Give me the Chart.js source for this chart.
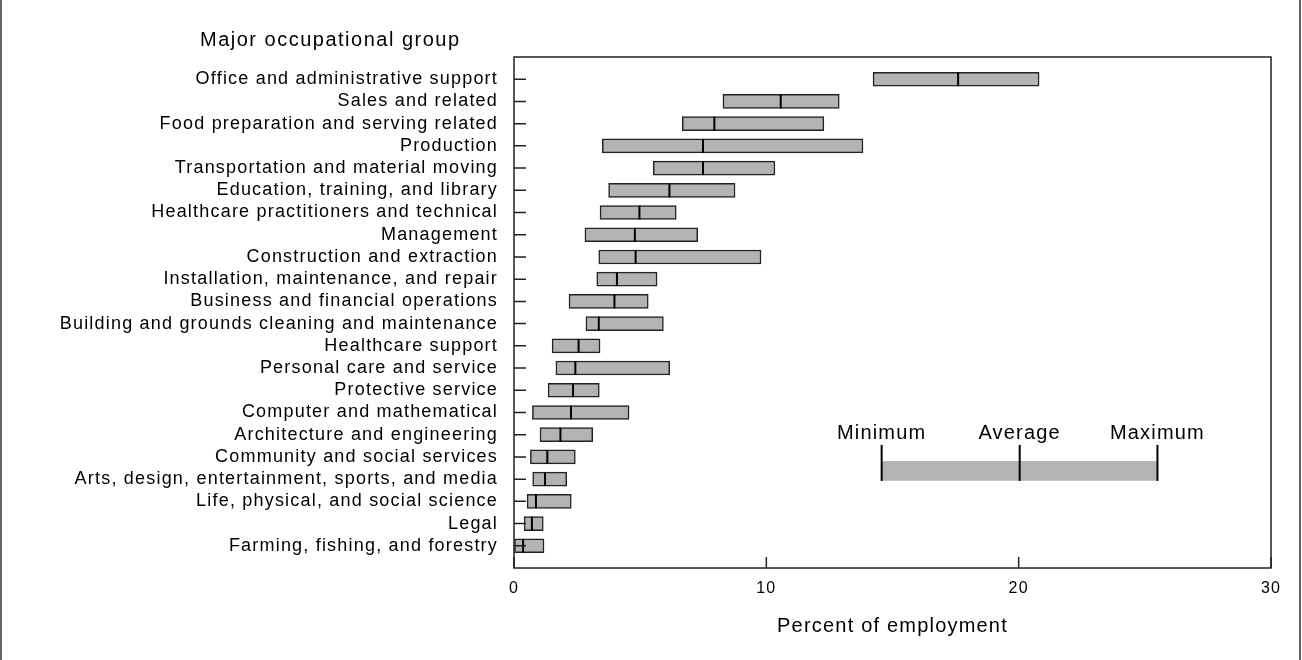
<!DOCTYPE html>
<html>
<head>
<meta charset="utf-8">
<script src="https://cdn.jsdelivr.net/npm/chart.js@4.4.1/dist/chart.umd.min.js"></script>
<style>
  html, body { margin: 0; padding: 0; background: #fff; }
  #wrap { width: 1302px; height: 660px; }
</style>
</head>
<body>
<div id="wrap"><canvas id="myChart"></canvas></div>
<script>
const groups = [
  'Office and administrative support',
  'Sales and related',
  'Food preparation and serving related',
  'Production',
  'Transportation and material moving',
  'Education, training, and library',
  'Healthcare practitioners and technical',
  'Management',
  'Construction and extraction',
  'Installation, maintenance, and repair',
  'Business and financial operations',
  'Building and grounds cleaning and maintenance',
  'Healthcare support',
  'Personal care and service',
  'Protective service',
  'Computer and mathematical',
  'Architecture and engineering',
  'Community and social services',
  'Arts, design, entertainment, sports, and media',
  'Life, physical, and social science',
  'Legal',
  'Farming, fishing, and forestry'
];
const mins = [14.23, 8.28, 6.67, 3.50, 5.52, 3.75, 3.41, 2.81, 3.36, 3.28, 2.18,
              2.85, 1.51, 1.66, 1.35, 0.73, 1.03, 0.65, 0.74, 0.52, 0.40, 0.02];
const avgs = [17.60, 10.57, 7.94, 7.49, 7.49, 6.16, 4.97, 4.79, 4.82, 4.08, 3.98,
              3.36, 2.56, 2.43, 2.34, 2.26, 1.84, 1.32, 1.23, 0.87, 0.71, 0.36];
const maxs = [20.81, 12.89, 12.28, 13.83, 10.34, 8.76, 6.43, 7.28, 9.79, 5.67, 5.32,
              5.92, 3.41, 6.17, 3.38, 4.56, 3.12, 2.43, 2.09, 2.27, 1.16, 1.19];
const xTicks = [0, 10, 20, 30];
const legendLabels = ['Minimum', 'Average', 'Maximum'];
const legendValues = [14.57, 20.04, 25.5];
const legendRow = 18.63;

const FONT = '"Liberation Sans", Arial, Helvetica, sans-serif';

const decor = {
  id: 'decor',
  beforeLayout(chart) { chart.ctx.letterSpacing = '1.2px'; },
  beforeDraw(chart) { chart.ctx.letterSpacing = '1.2px'; },
  afterDatasetsDraw(chart) {
    const ctx = chart.ctx;
    const xs = chart.scales.x, ys = chart.scales.y;
    ctx.save();
    ctx.strokeStyle = '#000';
    ctx.lineWidth = 2;
    // average marks
    avgs.forEach((v, i) => {
      const x = xs.getPixelForValue(v);
      const y = ys.getPixelForValue(i + 1);
      ctx.beginPath();
      ctx.moveTo(x, y - 7);
      ctx.lineTo(x, y + 7);
      ctx.stroke();
    });
    // key
    const ky = ys.getPixelForValue(legendRow);
    ctx.font = '20px ' + FONT;
    ctx.fillStyle = '#000';
    ctx.textAlign = 'center';
    ctx.textBaseline = 'alphabetic';
    legendValues.forEach((v, i) => {
      const x = xs.getPixelForValue(v);
      ctx.beginPath();
      ctx.moveTo(x, ky - 26);
      ctx.lineTo(x, ky + 10);
      ctx.stroke();
      ctx.fillText(legendLabels[i], x, ky - 32);
    });
    ctx.restore();
  },
  afterDraw(chart) {
    const ctx = chart.ctx;
    const a = chart.chartArea;
    const xs = chart.scales.x, ys = chart.scales.y;
    ctx.save();
    ctx.strokeStyle = '#222';
    ctx.lineWidth = 1.5;
    ctx.strokeRect(a.left, a.top, a.right - a.left, a.bottom - a.top);
    // inward tick marks
    ctx.beginPath();
    groups.forEach((g, i) => {
      const y = ys.getPixelForValue(i + 1);
      ctx.moveTo(a.left, y);
      ctx.lineTo(a.left + 12, y);
    });
    xTicks.forEach(v => {
      const x = xs.getPixelForValue(v);
      ctx.moveTo(x, a.bottom);
      ctx.lineTo(x, a.bottom - 11);
    });
    ctx.stroke();
    // figure frame
    ctx.lineWidth = 1.5;
    ctx.strokeStyle = '#333';
    ctx.beginPath();
    ctx.moveTo(1, 0); ctx.lineTo(1, chart.height);
    ctx.moveTo(1300, 0); ctx.lineTo(1300, chart.height);
    ctx.stroke();
    // category heading
    ctx.letterSpacing = '1.5px';
    ctx.font = '20px ' + FONT;
    ctx.fillStyle = '#000';
    ctx.textAlign = 'left';
    ctx.textBaseline = 'alphabetic';
    ctx.fillText('Major occupational group', 200, 46);
    ctx.restore();
  }
};

const ctx = document.getElementById('myChart').getContext('2d');
new Chart(ctx, {
  type: 'bar',
  data: {
    datasets: [
      {
        data: groups.map((g, i) => ({ x: [mins[i], maxs[i]], y: i + 1 })),
        backgroundColor: '#b3b3b3',
        borderColor: '#222',
        borderWidth: 1.5,
        borderSkipped: false,
        barThickness: 14,
        grouped: false
      },
      {
        data: [{ x: [legendValues[0], legendValues[2]], y: legendRow }],
        backgroundColor: '#b3b3b3',
        borderWidth: 0,
        barThickness: 19,
        grouped: false
      }
    ]
  },
  options: {
    indexAxis: 'y',
    responsive: true,
    maintainAspectRatio: false,
    animation: false,
    layout: { padding: { top: 57, right: 31, left: 0, bottom: 0 } },
    plugins: { legend: { display: false }, tooltip: { enabled: false } },
    scales: {
      x: {
        type: 'linear',
        min: 0,
        max: 30,
        offset: false,
        afterBuildTicks: s => { s.ticks = xTicks.map(v => ({ value: v })); },
        afterFit: s => { s.height = 92; },
        grid: { display: false, drawTicks: false },
        border: { display: false },
        ticks: { color: '#000', padding: 11, font: { family: FONT, size: 16 } },
        title: {
          display: true,
          text: 'Percent of employment',
          color: '#000',
          font: { family: FONT, size: 20 },
          padding: { top: 22, bottom: 22 }
        }
      },
      y: {
        type: 'linear',
        reverse: true,
        min: 0,
        max: 23,
        offset: false,
        afterBuildTicks: s => { s.ticks = groups.map((g, i) => ({ value: i + 1 })); },
        afterFit: s => { s.width = 514; },
        grid: { display: false, drawTicks: false, offset: false },
        border: { display: false },
        ticks: {
          autoSkip: false,
          color: '#000',
          padding: 16,
          font: { family: FONT, size: 18 },
          callback: v => groups[v - 1] || ''
        }
      }
    }
  },
  plugins: [decor]
});
</script>
</body>
</html>
